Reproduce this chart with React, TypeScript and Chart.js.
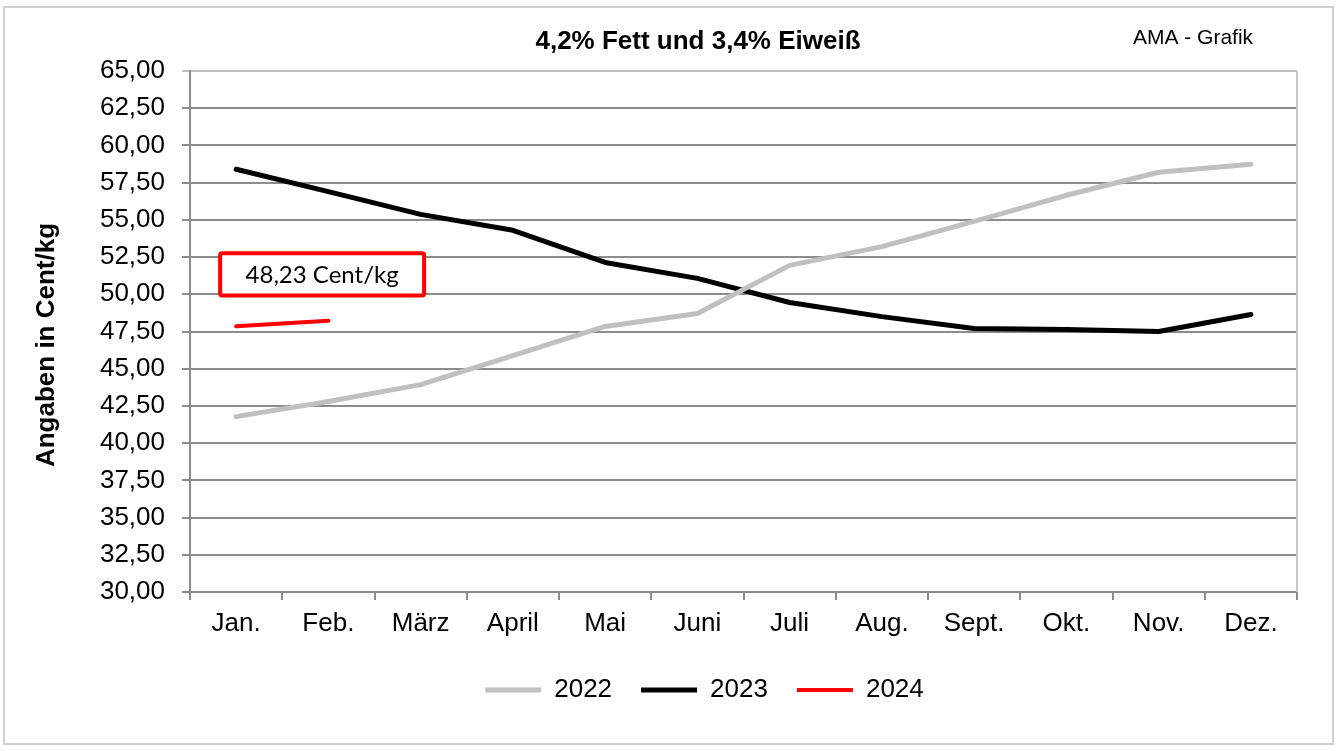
import React, { useEffect, useRef } from "react";
import { Chart, registerables } from "chart.js";

Chart.register(...registerables);

const months = ["Jan.", "Feb.", "März", "April", "Mai", "Juni", "Juli", "Aug.", "Sept.", "Okt.", "Nov.", "Dez."];
const values2022 = [41.78, 42.8, 43.93, 45.88, 47.84, 48.71, 51.94, 53.2, 54.9, 56.65, 58.2, 58.74];
const values2023 = [58.4, 56.9, 55.37, 54.3, 52.14, 51.07, 49.45, 48.5, 47.7, 47.64, 47.5, 48.64];
const values2024 = [47.85, 48.23];
const yMin = 30;
const yMax = 65;
const yStep = 2.5;
const chartTitle = "4,2% Fett und 3,4% Eiweiß";
const sourceLabel = "AMA - Grafik";
const yAxisTitle = "Angaben in Cent/kg";
const annotationText = "48,23 Cent/kg";

const FONT = "'Liberation Sans', Arial, sans-serif";

const decorPlugin = {
  id: "decor",
  afterLayout(chart: any) {
    const lg = chart.legend;
    if (lg) {
      lg.left += 56;
      lg.right += 56;
    }
  },
  beforeDraw(chart: any) {
    const ctx = chart.ctx;
    ctx.save();
    ctx.fillStyle = "#ffffff";
    ctx.fillRect(0, 0, chart.width, chart.height);
    ctx.strokeStyle = "#d0d0d0";
    ctx.lineWidth = 2;
    ctx.strokeRect(4, 7, chart.width - 10, chart.height - 14);
    ctx.restore();
  },
  afterDatasetsDraw(chart: any) {
    const ctx = chart.ctx;
    const { right, top, bottom } = chart.chartArea;
    const xs = chart.scales.x;
    const ys = chart.scales.y;
    ctx.save();
    ctx.strokeStyle = "#c8c8c8";
    ctx.lineWidth = 2;
    ctx.beginPath();
    ctx.moveTo(right, top);
    ctx.lineTo(right, bottom);
    ctx.stroke();

    ctx.fillStyle = "#000";
    ctx.textAlign = "center";
    ctx.textBaseline = "middle";
    ctx.font = `bold 26px ${FONT}`;
    ctx.fillText(chartTitle, 698, 42);
    ctx.font = `21px ${FONT}`;
    ctx.fillText(sourceLabel, 1193, 38);

    ctx.save();
    ctx.translate(47, 345);
    ctx.rotate(-Math.PI / 2);
    ctx.font = `bold 26px ${FONT}`;
    ctx.fillText(yAxisTitle, 0, 0);
    ctx.restore();

    const bx = xs.getPixelForValue(0) - 16;
    const bw = 204;
    const by = ys.getPixelForValue(52.75);
    const bb = ys.getPixelForValue(49.92);
    ctx.fillStyle = "#ffffff";
    ctx.strokeStyle = "#ff0000";
    ctx.lineWidth = 4;
    ctx.beginPath();
    (ctx as any).roundRect(bx, by, bw, bb - by, 2);
    ctx.fill();
    ctx.stroke();
    ctx.fillStyle = "#000";
    ctx.font = `24px Lato, 'Liberation Sans', sans-serif`;
    ctx.fillText(annotationText, bx + bw / 2, (by + bb) / 2 + 1);
    ctx.restore();
  },
};

export default function App() {
  const ref = useRef<HTMLCanvasElement | null>(null);
  useEffect(() => {
    document.body.style.margin = "0";
    const canvas = ref.current;
    if (!canvas) return;
    const gridColor = "#8c8c8c";
    const lineStyle = {
      pointRadius: 0,
      borderCapStyle: "round" as const,
      borderJoinStyle: "round" as const,
      tension: 0,
    };
    const chart = new Chart(canvas, {
      type: "line",
      data: {
        labels: months,
        datasets: [
          { label: "2022", data: values2022, borderColor: "#c0c0c0", backgroundColor: "#c0c0c0", borderWidth: 5, ...lineStyle },
          { label: "2023", data: values2023, borderColor: "#000000", backgroundColor: "#000000", borderWidth: 5, ...lineStyle },
          { label: "2024", data: values2024, borderColor: "#ff0000", backgroundColor: "#ff0000", borderWidth: 4, ...lineStyle },
        ],
      },
      options: {
        responsive: false,
        animation: false,
        events: [],
        layout: { padding: { left: 0, right: 42, top: 71, bottom: 38 } },
        plugins: {
          title: { display: false },
          tooltip: { enabled: false },
          legend: {
            display: true,
            position: "bottom",
            labels: {
              usePointStyle: true,
              pointStyle: "line",
              pointStyleWidth: 56,
              boxHeight: 5,
              padding: 29,
              color: "#000",
              font: { family: FONT, size: 26 },
            },
          },
        },
        scales: {
          x: {
            type: "category",
            offset: true,
            grid: {
              offset: true,
              drawOnChartArea: false,
              drawTicks: true,
              tickLength: 8,
              color: gridColor,
              lineWidth: 2,
            },
            border: { display: true, color: gridColor, width: 2 },
            ticks: {
              color: "#000",
              padding: 8,
              font: { family: FONT, size: 26 },
              maxRotation: 0,
              autoSkip: false,
            },
            afterFit(scale: any) {
              scale.height = 56;
            },
          },
          y: {
            min: yMin,
            max: yMax,
            ticks: {
              stepSize: yStep,
              color: "#000",
              padding: 17,
              font: { family: FONT, size: 26 },
              callback: (v: any) => Number(v).toFixed(2).replace(".", ","),
            },
            grid: {
              color: (c: any) => (c.tick && c.tick.value === yMax ? "#c0c0c0" : gridColor),
              lineWidth: 2,
              tickLength: 8,
            },
            border: { display: true, color: gridColor, width: 2 },
            afterFit(scale: any) {
              scale.width = 190;
            },
          },
        },
      },
      plugins: [decorPlugin],
    });
    return () => chart.destroy();
  }, []);
  return (
    <div style={{ position: "absolute", left: 0, top: 0, width: 1339, height: 751 }}>
      <canvas ref={ref} width={1339} height={751} style={{ width: 1339, height: 751, display: "block" }} />
    </div>
  );
}
